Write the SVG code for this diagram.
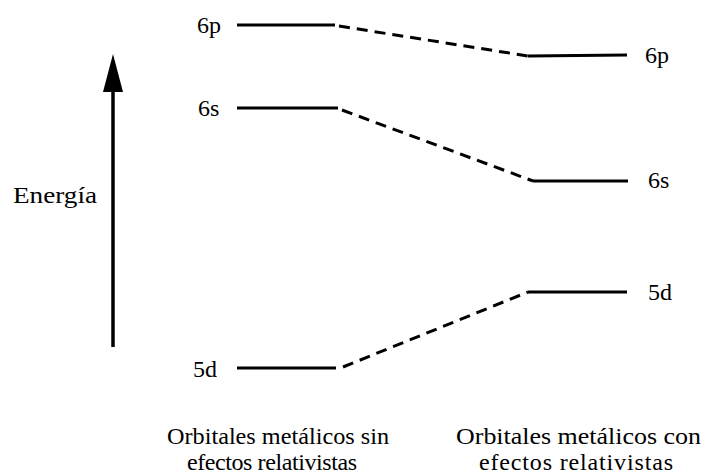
<svg xmlns="http://www.w3.org/2000/svg" width="703" height="474" viewBox="0 0 703 474">
<defs>
<style>
.lvl{stroke:#000;stroke-width:3;fill:none}
.dash{stroke:#000;stroke-width:3;fill:none;stroke-dasharray:11,7}
</style>
</defs>
<rect width="703" height="474" fill="#fff"/>
<g id="axis">
<line x1="113" y1="347" x2="113" y2="88" stroke="#000" stroke-width="3.5"/>
<polygon points="113,54 103,92 123,92" fill="#000"/>
<text x="13" y="203" font-family="'Liberation Serif', serif" font-size="24" textLength="84" lengthAdjust="spacingAndGlyphs">Energía</text>
</g>
<g id="left-6p"><line class="lvl" x1="237" y1="25" x2="335" y2="25"/><text x="197" y="33" font-family="'Liberation Serif', serif" font-size="24">6p</text></g>
<g id="left-6s"><line class="lvl" x1="237" y1="108" x2="338" y2="108"/><text x="198" y="116" font-family="'Liberation Serif', serif" font-size="24">6s</text></g>
<g id="left-5d"><line class="lvl" x1="237" y1="368" x2="336" y2="368"/><text x="193" y="377" font-family="'Liberation Serif', serif" font-size="24">5d</text></g>
<g id="right-6p"><line class="lvl" x1="528" y1="56" x2="627" y2="55"/><text x="645" y="63" font-family="'Liberation Serif', serif" font-size="24">6p</text></g>
<g id="right-6s"><line class="lvl" x1="533" y1="181" x2="628" y2="181"/><text x="648" y="188" font-family="'Liberation Serif', serif" font-size="24">6s</text></g>
<g id="right-5d"><line class="lvl" x1="528" y1="292" x2="627" y2="292"/><text x="648" y="300" font-family="'Liberation Serif', serif" font-size="24">5d</text></g>
<g id="connectors">
<line class="dash" x1="339" y1="26" x2="528" y2="56"/>
<line class="dash" x1="342" y1="110" x2="533" y2="181"/>
<line class="dash" x1="343" y1="367" x2="528" y2="292"/>
</g>
<g id="captions">
<text x="167" y="444" font-family="'Liberation Serif', serif" font-size="24" textLength="222" lengthAdjust="spacingAndGlyphs">Orbitales metálicos sin</text>
<text x="187" y="470" font-family="'Liberation Serif', serif" font-size="24" textLength="170" lengthAdjust="spacing">efectos relativistas</text>
<text x="456" y="444" font-family="'Liberation Serif', serif" font-size="24" textLength="245" lengthAdjust="spacingAndGlyphs">Orbitales metálicos con</text>
<text x="479" y="470" font-family="'Liberation Serif', serif" font-size="24" textLength="194" lengthAdjust="spacing">efectos relativistas</text>
</g>
</svg>
